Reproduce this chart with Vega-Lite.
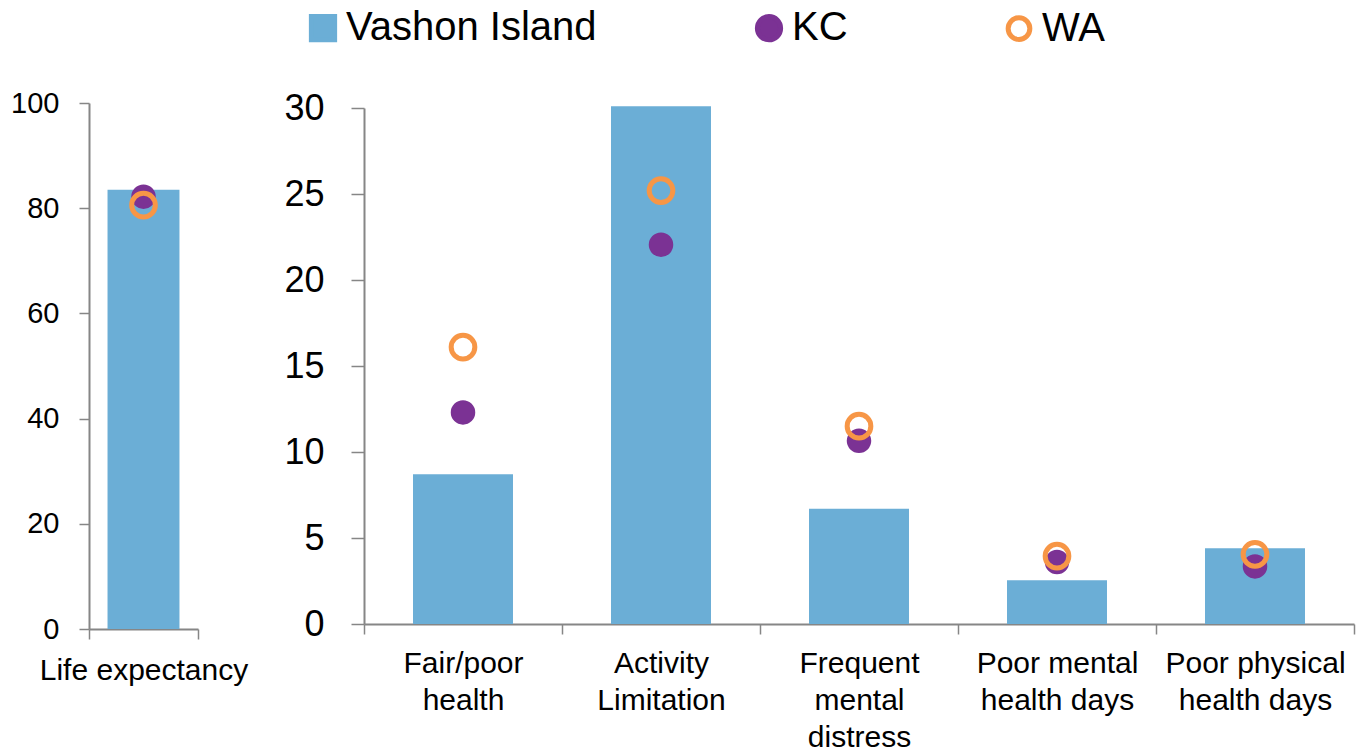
{
  "$schema": "https://vega.github.io/schema/vega-lite/v6.json",
  "autosize": {"type": "pad"},
  "padding": {"left": 10, "top": 8, "right": 10, "bottom": 0},
  "background": "white",
  "config": {
    "view": {"stroke": null},
    "font": "Liberation Sans",
    "axis": {
      "domainColor": "#868686",
      "domainWidth": 2,
      "tickColor": "#868686",
      "tickWidth": 1.5,
      "labelColor": "#000000",
      "labelFont": "Liberation Sans",
      "labelLimit": 0,
      "grid": false,
      "title": null
    },
    "legend": {
      "labelFont": "Liberation Sans",
      "labelFontSize": 40,
      "labelColor": "#000000",
      "labelLimit": 0,
      "symbolSize": 560,
      "labelOffset": 3,
      "columnPadding": 150,
      "title": null
    }
  },
  "datasets": {
    "main": [
      {"measure": "Life expectancy", "series": "Vashon Island", "value": 83.5},
      {"measure": "Life expectancy", "series": "KC", "value": 82.2},
      {"measure": "Life expectancy", "series": "WA", "value": 80.6},
      {"measure": "Fair/poor health", "series": "Vashon Island", "value": 8.7},
      {"measure": "Fair/poor health", "series": "KC", "value": 12.3},
      {"measure": "Fair/poor health", "series": "WA", "value": 16.1},
      {"measure": "Activity Limitation", "series": "Vashon Island", "value": 30.1},
      {"measure": "Activity Limitation", "series": "KC", "value": 22.05},
      {"measure": "Activity Limitation", "series": "WA", "value": 25.2},
      {"measure": "Frequent mental distress", "series": "Vashon Island", "value": 6.7},
      {"measure": "Frequent mental distress", "series": "KC", "value": 10.65},
      {"measure": "Frequent mental distress", "series": "WA", "value": 11.5},
      {"measure": "Poor mental health days", "series": "Vashon Island", "value": 2.55},
      {"measure": "Poor mental health days", "series": "KC", "value": 3.6},
      {"measure": "Poor mental health days", "series": "WA", "value": 3.95},
      {"measure": "Poor physical health days", "series": "Vashon Island", "value": 4.4},
      {"measure": "Poor physical health days", "series": "KC", "value": 3.35},
      {"measure": "Poor physical health days", "series": "WA", "value": 4.05}
    ]
  },
  "spacing": 35,
  "hconcat": [
    {
      "width": 109,
      "height": 526,
      "data": {"name": "main"},
      "transform": [{"filter": "datum.measure === 'Life expectancy'"}],
      "encoding": {
        "x": {
          "field": "measure",
          "type": "nominal",
          "scale": {"paddingInner": 0, "paddingOuter": 0},
          "axis": {"labelAngle": 0, "labelFontSize": 30, "tickSize": 10, "tickBand": "extent", "labelPadding": 16,
            "labelExpr": "datum.value == 'Life expectancy' ? 'Life expectancy' : ''"}
        },
        "y": {
          "field": "value",
          "type": "quantitative",
          "scale": {"domain": [0, 100], "nice": false},
          "axis": {"values": [0, 20, 40, 60, 80, 100], "labelFontSize": 29, "tickSize": 10, "labelPadding": 20}
        }
      },
      "layer": [
        {
          "transform": [{"filter": "datum.series === 'Vashon Island'"}],
          "mark": {"type": "bar", "width": {"band": 0.66}},
          "encoding": {
            "color": {
              "field": "series",
              "type": "nominal",
              "scale": {"domain": ["Vashon Island", "KC", "WA"], "range": ["#6BAED6", "#7B3294", "#F79646"]},
              "legend": {
                "orient": "none",
                "direction": "horizontal",
                "columns": 3,
                "legendX": 214,
                "legendY": -95,
                "encode": {
                  "symbols": {
                    "update": {
                      "shape": {"signal": "datum.value === 'Vashon Island' ? 'square' : 'circle'"},
                      "fillOpacity": {"signal": "datum.value === 'WA' ? 0 : 1"},
                      "stroke": {"signal": "datum.value === 'WA' ? '#F79646' : 'transparent'"},
                      "strokeWidth": {"value": 5},
                      "opacity": {"value": 1},
                      "size": {"signal": "datum.value === 'WA' ? 470 : 540"}
                    }
                  }
                }
              }
            }
          }
        },
        {
          "transform": [{"filter": "datum.series === 'KC'"}],
          "mark": {"type": "point", "filled": true, "size": 600, "opacity": 1},
          "encoding": {"color": {"field": "series", "type": "nominal"}}
        },
        {
          "transform": [{"filter": "datum.series === 'WA'"}],
          "mark": {"type": "point", "filled": false, "size": 560, "strokeWidth": 5, "opacity": 1},
          "encoding": {"color": {"field": "series", "type": "nominal"}}
        }
      ]
    },
    {
      "width": 990,
      "height": 521,
      "data": {"name": "main"},
      "transform": [{"filter": "datum.measure !== 'Life expectancy'"}],
      "encoding": {
        "x": {
          "field": "measure",
          "type": "nominal",
          "sort": ["Fair/poor health", "Activity Limitation", "Frequent mental distress", "Poor mental health days", "Poor physical health days"],
          "scale": {"paddingInner": 0, "paddingOuter": 0},
          "axis": {
            "labelAngle": 0,
            "labelFontSize": 30,
            "labelLineHeight": 37,
            "tickSize": 10,
            "tickBand": "extent",
            "labelPadding": 14,
            "labelExpr": "datum.value == 'Fair/poor health' ? ['Fair/poor', 'health'] : datum.value == 'Activity Limitation' ? ['Activity', 'Limitation'] : datum.value == 'Frequent mental distress' ? ['Frequent', 'mental', 'distress'] : datum.value == 'Poor mental health days' ? ['Poor mental', 'health days'] : datum.value == 'Poor physical health days' ? ['Poor physical', 'health days'] : ''"
          }
        },
        "y": {
          "field": "value",
          "type": "quantitative",
          "scale": {"domain": [0, 30], "nice": false, "range": [521, 5]},
          "axis": {"values": [0, 5, 10, 15, 20, 25, 30], "labelFontSize": 36, "tickSize": 13, "labelPadding": 27}
        }
      },
      "layer": [
        {
          "transform": [{"filter": "datum.series === 'Vashon Island'"}],
          "mark": {"type": "bar", "width": {"band": 0.505}},
          "encoding": {"color": {"field": "series", "type": "nominal"}}
        },
        {
          "transform": [{"filter": "datum.series === 'KC'"}],
          "mark": {"type": "point", "filled": true, "size": 600, "opacity": 1},
          "encoding": {"color": {"field": "series", "type": "nominal"}}
        },
        {
          "transform": [{"filter": "datum.series === 'WA'"}],
          "mark": {"type": "point", "filled": false, "size": 560, "strokeWidth": 5, "opacity": 1},
          "encoding": {"color": {"field": "series", "type": "nominal"}}
        }
      ]
    }
  ]
}
